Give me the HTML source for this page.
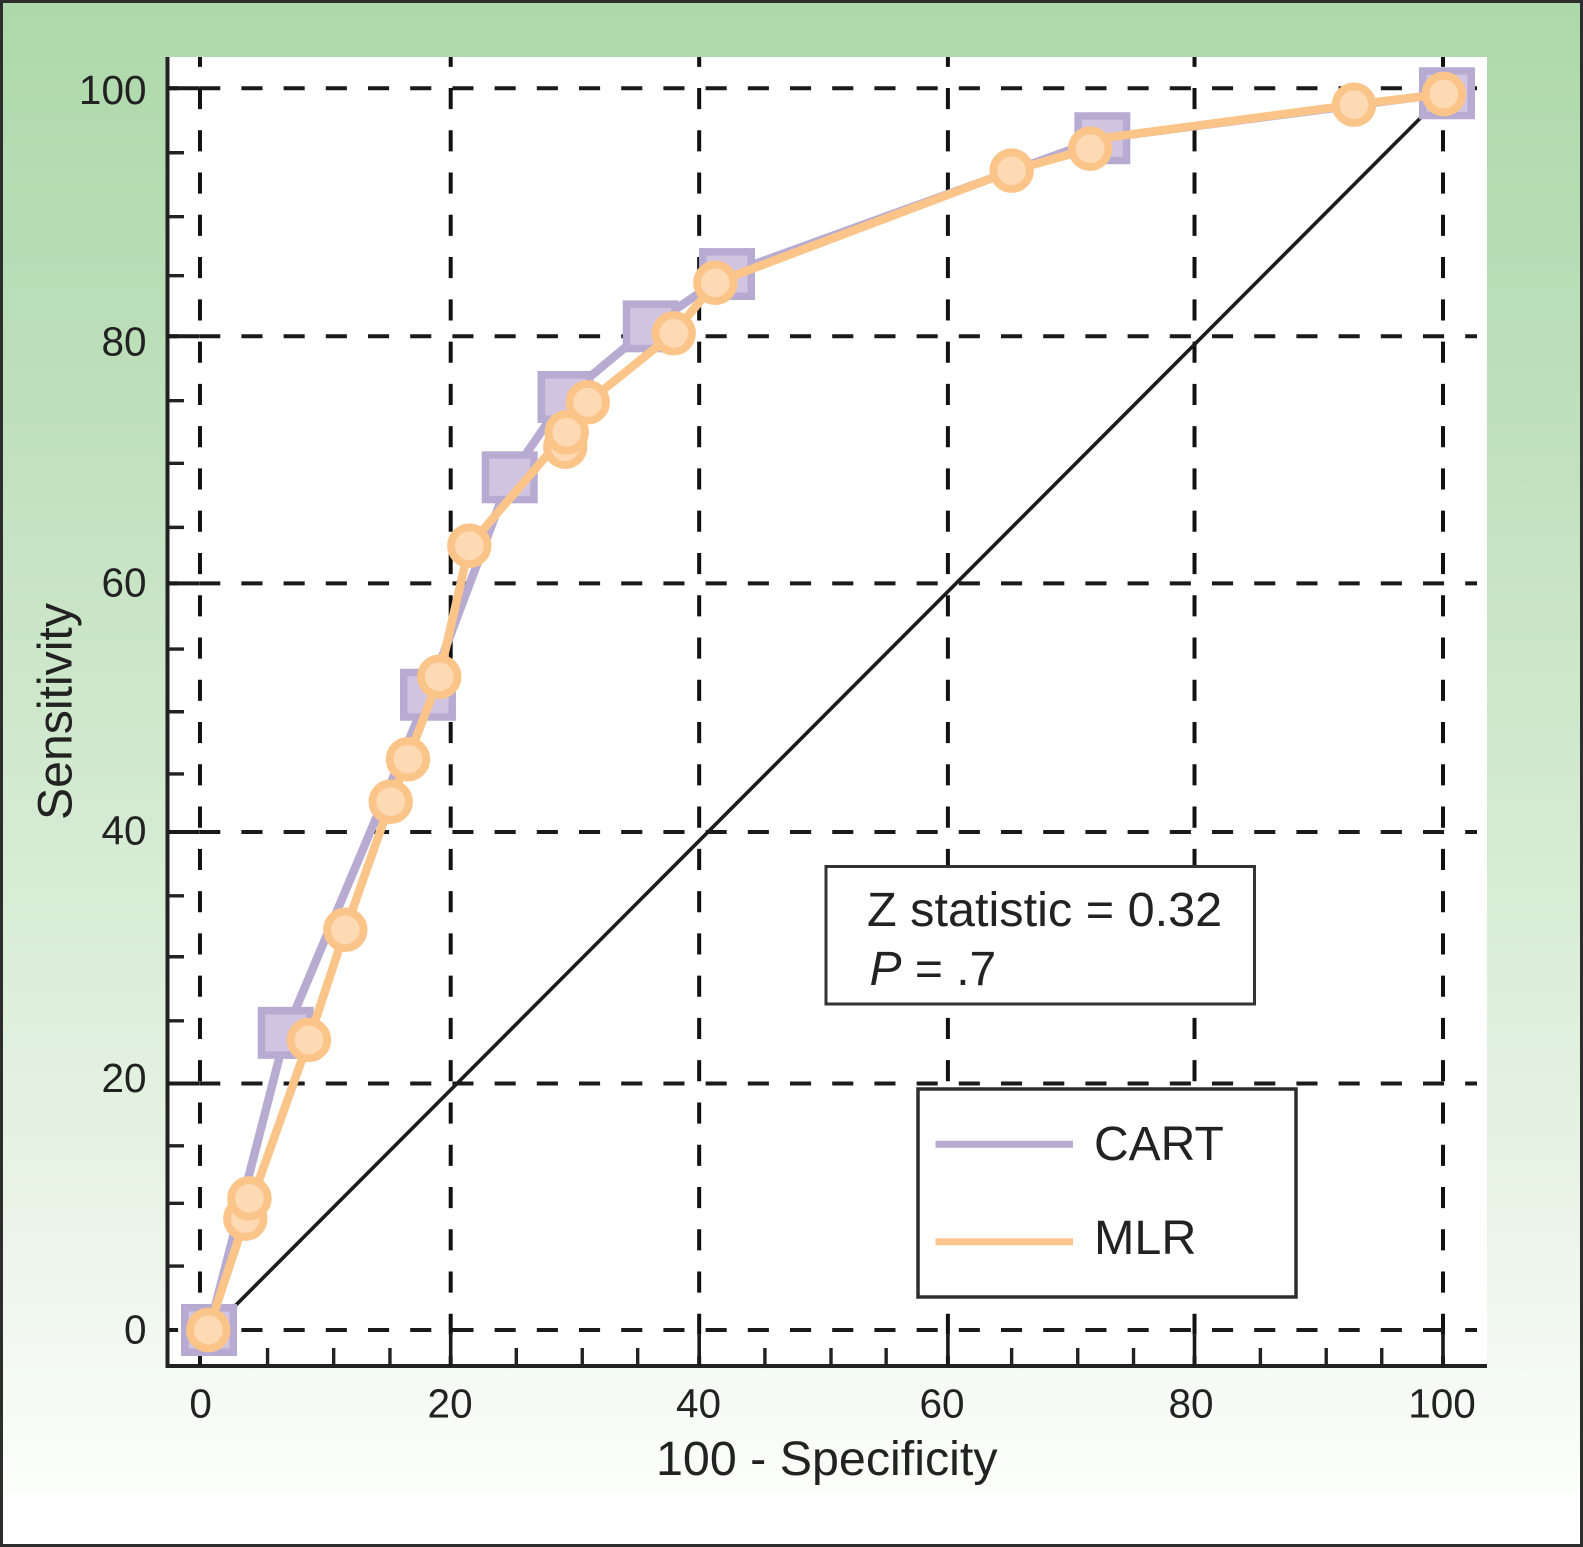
<!DOCTYPE html>
<html lang="en">
<head>
<meta charset="utf-8">
<title>ROC curves: CART vs MLR</title>
<style>
html,body{margin:0;padding:0;background:#fff;}
body{width:1583px;height:1547px;overflow:hidden;}
svg{display:block;font-family:"Liberation Sans",Arial,sans-serif;}
</style>
</head>
<body>
<svg id="chart" xmlns="http://www.w3.org/2000/svg" width="1583" height="1547" viewBox="0 0 1583 1547">
  <defs>
    <linearGradient id="bg" x1="0" y1="0" x2="0" y2="1">
      <stop offset="0" stop-color="#aed8ab"/>
      <stop offset="0.26" stop-color="#bee0bb"/>
      <stop offset="0.78" stop-color="#e9f4e7"/>
      <stop offset="0.97" stop-color="#fdfefd"/>
      <stop offset="1" stop-color="#ffffff"/>
    </linearGradient>
  </defs>
  <rect x="1.5" y="1.5" width="1580" height="1544" fill="url(#bg)" stroke="#2d2d2d" stroke-width="3"/>
  <rect x="167" y="57" width="1320" height="1309" fill="#ffffff"/>
  <g id="grid"></g>
  <g id="axes"></g>

  <text transform="translate(71.5,820) rotate(-90)" font-size="48.2" fill="#222">Sensitivity</text>
  <text x="656" y="1475" font-size="48.4" fill="#222">100 - Specificity</text>

  <g>
    <rect x="826" y="866.5" width="428.5" height="137.5" fill="#ffffff" stroke="#333" stroke-width="3"/>
    <text x="867" y="926" font-size="48.6" fill="#222">Z statistic = 0.32</text>
    <text x="869.5" y="985" font-size="48" fill="#222"><tspan font-style="italic">P</tspan> = .7</text>
  </g>

  <g>
    <rect x="918" y="1089" width="378" height="208" fill="#ffffff" stroke="#2d2d2d" stroke-width="3.5"/>
    <line x1="935.5" y1="1144.3" x2="1073" y2="1144.3" stroke="#b8abd2" stroke-width="7"/>
    <text x="1094" y="1160" font-size="48" fill="#222">CART</text>
    <line x1="935.5" y1="1241.7" x2="1073" y2="1241.7" stroke="#fcc68c" stroke-width="7"/>
    <text x="1094" y="1254" font-size="48.5" fill="#222">MLR</text>
  </g>
  <g id="series"></g>
</svg>
<script>
const xTickValues = [0, 20, 40, 60, 80, 100];
const yTickValues = [0, 20, 40, 60, 80, 100];
const xTickLabels = ['0', '20', '40', '60', '80', '100'];
const yTickLabels = ['0', '20', '40', '60', '80', '100'];
const xGridValues = [-0.05, 20.13, 40.13, 60.15, 80, 100];
const yGridValues = [0, 19.85, 40.11, 60.13, 80.03, 100];
const xMinorTicks = [5.39, 10.71, 15.24, 25.41, 30.72, 35.18, 45.42, 50.74, 55.18, 65.28, 70.6, 75.09, 85.3, 90.6, 95.07];
const yMinorTicks = [5.15, 10.2, 14.83, 24.9, 30.06, 34.97, 44.78, 49.79, 54.84, 64.64, 69.8, 74.84, 84.91, 89.66, 94.81];

const cartX = [0.68, 6.85, 18.3, 24.88, 29.37, 36.23, 42.37, 72.58, 100.32];
const cartY = [0, 23.93, 51.16, 68.67, 75.14, 80.83, 85.04, 95.98, 99.6];

const mlrX = [0.62, 3.6, 3.93, 8.72, 11.65, 15.3, 16.69, 19.21, 21.63, 29.35, 29.47, 31.16, 38.08, 41.43, 65.28, 71.6, 92.84, 100.07];
const mlrY = [0, 8.97, 10.6, 23.36, 32.23, 42.55, 45.97, 52.61, 63.16, 71.14, 72.3, 74.71, 80.27, 84.34, 93.37, 95.14, 98.68, 99.54];
const mlrBendX = [72.58];
const mlrBendY = [95.98];

const chanceX = [0.68, 100.32];
const chanceY = [-0.16, 99.75];

const NS = 'http://www.w3.org/2000/svg';
const gridLayer = document.getElementById('grid');
const axesLayer = document.getElementById('axes');
const seriesLayer = document.getElementById('series');

function xScale(v) { return 200.6 + 12.424 * v; }
function yScale(v) { return 1330 - 12.417 * v; }

const plotLeft = 167.5, plotTop = 57, plotBottom = 1366, plotRight = 1487, gridRight = 1477;
const xLabelShift = [0, 1, 1, -4, -3.5, -1];
const yLabelShift = [13.6, 10.3, 11.2, 11.7, 18.8, 15.7];

function make(tag, parent, attrs) {
  const el = document.createElementNS(NS, tag);
  for (const k in attrs) el.setAttribute(k, attrs[k]);
  parent.appendChild(el);
  return el;
}

// gridlines
xGridValues.forEach(function (v, i) {
  const el = make('line', gridLayer, {x1: xScale(v), x2: xScale(v), y1: plotTop, y2: plotBottom, stroke: '#111', 'stroke-width': 4, 'stroke-dasharray': '21.13 21.14', 'stroke-dashoffset': 11.3});
  
  
});
yGridValues.forEach(function (v, i) {
  const el = make('line', gridLayer, {x1: plotLeft, x2: gridRight, y1: yScale(v), y2: yScale(v), stroke: '#1a1a1a', 'stroke-width': 4, 'stroke-dasharray': '21.1 21.1', 'stroke-dashoffset': 10.5});
  
  
});

// axis spines
const ySpine = make('line', axesLayer, {x1: plotLeft, x2: plotLeft, y1: plotTop, y2: plotBottom + 2, stroke: '#222', 'stroke-width': 4});


const xSpine = make('line', axesLayer, {x1: plotLeft - 2, x2: plotRight, y1: plotBottom, y2: plotBottom, stroke: '#222', 'stroke-width': 4});



// ticks and tick labels
xTickValues.forEach(function (v, i) {
  const t = make('line', axesLayer, {x1: xScale(xGridValues[i]), x2: xScale(xGridValues[i]), y1: 1335, y2: plotBottom, stroke: '#1a1a1a', 'stroke-width': 3.6});
  
  
  const lab = make('text', axesLayer, {x: xScale(v) + xLabelShift[i], y: 1417.3, 'font-size': 40.5, fill: '#222', 'text-anchor': 'middle'});
  lab.textContent = xTickLabels[i];
  
  
});
yTickValues.forEach(function (v, i) {
  if (v > 0) {
    const t = make('line', axesLayer, {x1: plotLeft, x2: 199, y1: yScale(yGridValues[i]), y2: yScale(yGridValues[i]), stroke: '#1a1a1a', 'stroke-width': 4});
    
    
  }
  const lab = make('text', axesLayer, {x: 146.5, y: yScale(v) + yLabelShift[i], 'font-size': 40.5, fill: '#222', 'text-anchor': 'end'});
  lab.textContent = yTickLabels[i];
  
  
});
xMinorTicks.forEach(function (v) {
  const t = make('line', axesLayer, {x1: xScale(v), x2: xScale(v), y1: 1348, y2: plotBottom, stroke: '#222', 'stroke-width': 3.4});
  
  
});
yMinorTicks.forEach(function (v) {
  const t = make('line', axesLayer, {x1: plotLeft, x2: 184, y1: yScale(v), y2: yScale(v), stroke: '#222', 'stroke-width': 3.4});
  
  
});

function linePoints(xs, ys) {
  return xs.map(function (x, i) { return xScale(x) + ',' + yScale(ys[i]); }).join(' ');
}

// chance diagonal
const chance = make('polyline', seriesLayer, {points: linePoints(chanceX, chanceY), fill: 'none', stroke: '#1c1c1c', 'stroke-width': 3.6});



// CART series
const cartLine = make('polyline', seriesLayer, {points: linePoints(cartX, cartY), fill: 'none', stroke: '#b8abd2', 'stroke-width': 8.5, 'stroke-linejoin': 'round'});


cartX.forEach(function (x, i) {
  const s = make('rect', seriesLayer, {x: xScale(x) - 24.25, y: yScale(cartY[i]) - 22.25, width: 48.5, height: 44.5, fill: '#d0c4e0', stroke: '#b8abd2', 'stroke-width': 7.5});
  
  
});

// MLR series: in the source the line skips two overlapping markers and kinks at the CART point after the 72% marker
const lineSkips = [2, 9];
const bendAt = 16;
const mlrLineX = [];
const mlrLineY = [];
mlrX.forEach(function (x, i) {
  if (i === bendAt) {
    mlrLineX.push(mlrBendX[0]);
    mlrLineY.push(mlrBendY[0]);
  }
  if (lineSkips.indexOf(i) < 0) {
    mlrLineX.push(x);
    mlrLineY.push(mlrY[i]);
  }
});
const mlrLine = make('polyline', seriesLayer, {points: linePoints(mlrLineX, mlrLineY), fill: 'none', stroke: '#fbc488', 'stroke-width': 8.5, 'stroke-linejoin': 'round'});


mlrX.forEach(function (x, i) {
  const c = make('circle', seriesLayer, {cx: xScale(x), cy: yScale(mlrY[i]), r: 18.3, fill: '#fdd9b4', stroke: '#fbc488', 'stroke-width': 7.8});
  
  
});
</script>
</body>
</html>
